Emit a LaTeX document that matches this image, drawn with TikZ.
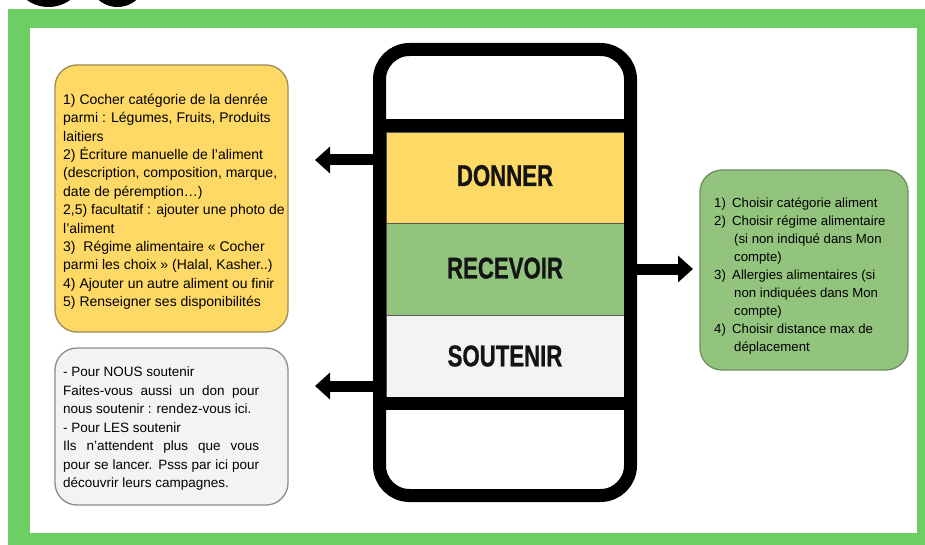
\documentclass[tikz,border=0pt]{standalone}
\usepackage{fontspec}
\setmainfont{Liberation Sans}
\newfontfamily\bandfont[FakeStretch=0.74,FakeBold=0.8]{Liberation Sans Bold}
\usetikzlibrary{arrows.meta}
\definecolor{framegreen}{HTML}{6CCF63}
\definecolor{donnerY}{HTML}{FFD966}
\definecolor{recevG}{HTML}{93C47D}
\definecolor{soutG}{HTML}{F3F3F3}
\definecolor{ybord}{HTML}{9E8B55}
\definecolor{gbord}{HTML}{6F8F60}
\definecolor{sbord}{HTML}{8C8C8C}
\begin{document}
\begin{tikzpicture}[x=1pt,y=-1pt,
  band/.style={draw=black!65, line width=0.8pt, minimum width=238pt, inner sep=0pt,
    font=\bandfont\fontsize{30}{30}\selectfont, text=black!92},
  infobox/.style={rounded corners=22pt, line width=1.3pt, inner sep=0pt, minimum width=233pt},
  infotext/.style={align=left, inner sep=0pt, anchor=base west},
  bigarrow/.style={line width=11pt, -{Triangle[length=15pt 0 0,width=26pt 0 0]}},
]
\useasboundingbox (0,0) rectangle (925,545);
\clip (0,0) rectangle (925,545);
% frame
\fill[framegreen] (8,9) rectangle (925,545);
\fill[white] (30,28) rectangle (917,533);
% logo fragments
\fill[black] (48.5,-23) ellipse [x radius=33.5pt, y radius=30pt];
\fill[black] (117.5,-23) ellipse [x radius=29.5pt, y radius=30pt];
% phone bands
\node[band, fill=donnerY, minimum height=91pt] (donner) at (505,177.5) {\raisebox{4pt}{DONNER}};
\node[band, fill=recevG, minimum height=92pt] (recevoir) at (505,269) {\raisebox{2pt}{RECEVOIR}};
\node[band, fill=soutG, minimum height=82pt] (soutenir) at (505,356) {SOUTENIR};
\fill[black] (386,119) rectangle (624,132);
\fill[black] (386,397) rectangle (624,410);
% phone body
\node[draw=black, line width=13pt, rounded corners=30pt, minimum width=251pt,
  minimum height=446pt, inner sep=0pt] (phone) at (505,272.5) {};
% arrows
\coordinate (tipD) at (315,160);
\coordinate (tipS) at (315,386);
\coordinate (tipR) at (693,269);
\draw[bigarrow] (phone.west |- tipD) -- (tipD);
\draw[bigarrow] (phone.west |- tipS) -- (tipS);
\draw[bigarrow] (phone.east |- tipR) -- (tipR);
% boxes
\node[infobox, draw=ybord, fill=donnerY, minimum height=267pt] (ybox) at (171.5,198.5) {};
\node[infobox, draw=sbord, fill=soutG, minimum height=157pt] (sbox) at (171.5,426.5) {};
\node[infobox, draw=gbord, fill=recevG, minimum width=208pt, minimum height=200pt] (gbox) at (804,270) {};
% texts (anchor = baseline of the last line)
\node[infotext, font=\fontsize{14}{18.4}\selectfont] (ytext) at (63,306.7) {%
1) Cocher catégorie de la denrée\\
parmi : Légumes, Fruits, Produits\\
laitiers\\
2) Écriture manuelle de l'aliment\\
(description, composition, marque,\\
date de péremption…)\\
2,5) facultatif : ajouter une photo de\\
l'aliment\\
3)\ \ Régime alimentaire « Cocher\\
parmi les choix » (Halal, Kasher..)\\
4) Ajouter un autre aliment ou finir\\
5) Renseigner ses disponibilités};
\node[infotext, font=\fontsize{13.5}{18.5}\selectfont] (stext) at (63,487.5) {%
- Pour NOUS soutenir\\
\makebox[196pt][s]{Faites-vous aussi un don pour}\\
nous soutenir : rendez-vous ici.\\
- Pour LES soutenir\\
\makebox[196pt][s]{Ils n'attendent plus que vous}\\
\makebox[196pt][s]{pour se lancer. Psss par ici pour}\\
découvrir leurs campagnes.};
\node[infotext, font=\fontsize{13.2}{18}\selectfont] (gtext) at (714,351.5) {%
\makebox[18pt][l]{1)}Choisir catégorie aliment\\
\makebox[18pt][l]{2)}Choisir régime alimentaire\\
\hspace*{20pt}(si non indiqué dans Mon\\
\hspace*{20pt}compte)\\
\makebox[18pt][l]{3)}Allergies alimentaires (si\\
\hspace*{20pt}non indiquées dans Mon\\
\hspace*{20pt}compte)\\
\makebox[18pt][l]{4)}Choisir distance max de\\
\hspace*{20pt}déplacement};
\end{tikzpicture}
\end{document}
